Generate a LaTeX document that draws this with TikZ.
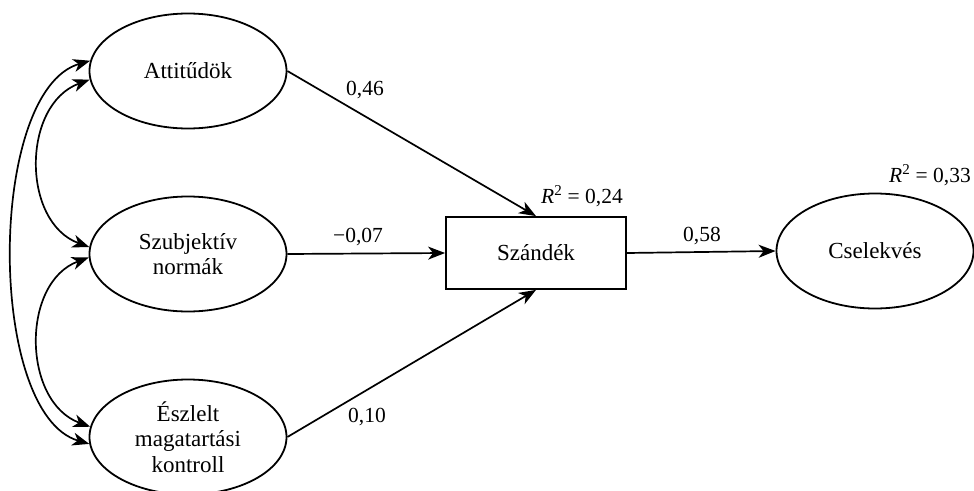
\documentclass[tikz,border=0pt]{standalone}
\usepackage{fontspec}
\setmainfont{Liberation Serif}
\usetikzlibrary{shapes.geometric,arrows.meta}
\begin{document}
\begin{tikzpicture}[x=1pt,y=-1pt,
  every node/.style={font=\fontsize{23}{25.5}\selectfont},
  latent/.style={ellipse,draw,line width=1.8pt,minimum width=197pt,minimum height=115pt,inner sep=0pt,align=center},
  observed/.style={rectangle,draw,line width=1.8pt,minimum width=180pt,minimum height=72pt,inner sep=0pt},
  tip/.style={},
  path/.style={line width=1.7pt,-{Stealth[length=17pt,width=13pt,inset=5pt]}},
  covar/.style={line width=1.7pt,{Stealth[length=17pt,width=13pt,inset=5pt]}-{Stealth[length=17pt,width=13pt,inset=5pt]}},
  coef/.style={inner sep=0pt,font=\fontsize{21.5}{25}\selectfont}]
\useasboundingbox (0,0) rectangle (974,490);

% predictors
\node[latent] (att) at (188,71) {Attitűdök};
\node[latent] (szn) at (188,254) {Szubjektív\\normák};
\node[latent] (esz) at (188,437) {Észlelt\\magatartási\\kontroll};

% intention and behaviour
\node[observed] (szd) at (536,253) {Szándék};
\node[latent] (cse) at (875,251) {Cselekvés};

% regression paths
\draw[path] (att.east) -- (szd.north);
\draw[path] (szn.east) -- (szd.west);
\draw[path] (esz.east) -- (szd.south);
\draw[path] (szd.east) -- (cse.west);

% covariances between predictors
\draw[covar] (att.185) .. controls +(-68,25) and +(-68,-25) .. (szn.176.6);
\draw[covar] (szn.182) .. controls +(-68,25) and +(-68,-25) .. (esz.174);
\draw[covar] (att.174) .. controls +(-103,30) and +(-103,-30) .. (esz.184.6);

% coefficients
\node[coef] (c1) at (365,90) {0,46};
\node[coef] (c2) at (358,237) {−0,07};
\node[coef] (c3) at (367,417) {0,10};
\node[coef] (c4) at (702,236) {0,58};
\node[coef] (r1) at (582,196) {\textit{R}\textsuperscript{2} = 0,24};
\node[coef] (r2) at (930,175) {\textit{R}\textsuperscript{2} = 0,33};
\end{tikzpicture}
\end{document}
